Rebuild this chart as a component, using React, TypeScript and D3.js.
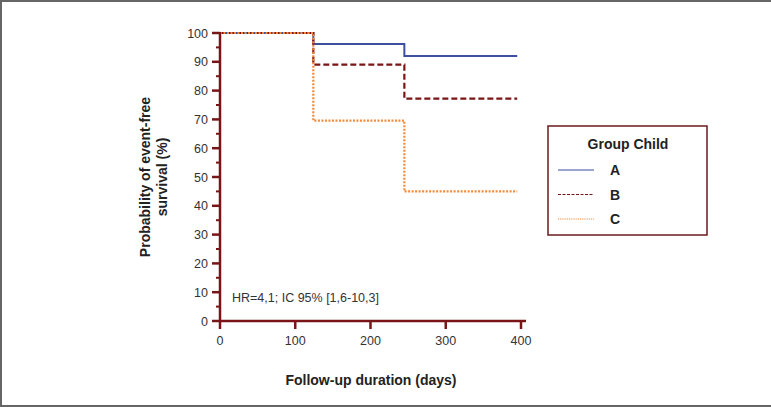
import React from "react";
import * as d3 from "d3";

const times = [0, 124, 245, 395];
const seriesA = [100, 96.2, 92, 92];
const seriesB = [100, 89, 77.2, 77.2];
const seriesC = [100, 69.6, 45, 45];
const groups = ["A", "B", "C"];
const xTicks = [0, 100, 200, 300, 400];
const yTicks = [0, 10, 20, 30, 40, 50, 60, 70, 80, 90, 100];

const W = 771, H = 407;
const axisColor = "#7a1418";
const font = "'Liberation Sans', Arial, sans-serif";

export default function App() {
  const x = d3.scaleLinear().domain([0, 400]).range([220, 521]);
  const y = d3.scaleLinear().domain([0, 100]).range([321, 33]);
  const line = d3.line<[number, number]>().x(d => x(d[0])).y(d => y(d[1])).curve(d3.curveStepAfter);
  const styles = [
    { color: "#3d4f9f", dash: undefined as string | undefined, w: 2 },
    { color: "#7b1416", dash: "6,3", w: 2.2 },
    { color: "#f28a3a", dash: "2,1.5", w: 2.2 },
  ];
  const data = [seriesA, seriesB, seriesC];
  const minor = d3.range(5, 100, 10);
  return (
    <svg width={W} height={H} style={{ position: "fixed", left: 0, top: 0 }} fontFamily={font}>
      <rect x={0} y={0} width={W} height={H} fill="#fff" />
      <line x1={0} x2={W} y1={1} y2={1} stroke="#666" strokeWidth={2} />
      <line x1={1} x2={1} y1={0} y2={H} stroke="#666" strokeWidth={2} />
      <line x1={0} x2={W} y1={H - 1} y2={H - 1} stroke="#666" strokeWidth={2} />

      {data.map((s, i) => (
        <path key={i} d={line(times.map((t, j) => [t, s[j]] as [number, number])) || ""}
          fill="none" stroke={styles[i].color} strokeWidth={styles[i].w} strokeDasharray={styles[i].dash} />
      ))}

      {/* axes */}
      <line x1={x(0)} x2={x(0)} y1={y(100) - 1} y2={y(0)} stroke={axisColor} strokeWidth={2.5} />
      <line x1={x(0)} x2={526} y1={y(0)} y2={y(0)} stroke={axisColor} strokeWidth={2.5} />
      {yTicks.map(t => (
        <g key={t}>
          <line x1={x(0) - 8} x2={x(0)} y1={y(t)} y2={y(t)} stroke={axisColor} strokeWidth={2.5} />
          <text x={208} y={y(t) + 4.5} textAnchor="end" fontSize={12.5} fill="#333">{t}</text>
        </g>
      ))}
      {minor.map(t => (
        <line key={t} x1={x(0) - 4} x2={x(0)} y1={y(t)} y2={y(t)} stroke={axisColor} strokeWidth={2} />
      ))}
      {xTicks.map(t => (
        <g key={t}>
          <line x1={x(t)} x2={x(t)} y1={y(0)} y2={y(0) + 8} stroke={axisColor} strokeWidth={2.5} />
          <text x={x(t)} y={y(0) + 24} textAnchor="middle" fontSize={12.5} fill="#333">{t}</text>
        </g>
      ))}

      <text x={232} y={302} fontSize={12.5} fill="#333">HR=4,1; IC 95% [1,6-10,3]</text>

      <text x={371} y={385} textAnchor="middle" fontSize={14} fontWeight="bold" fill="#222">Follow-up duration (days)</text>
      <g transform={`translate(150, ${(y(0) + y(100)) / 2}) rotate(-90)`}>
        <text x={0} y={0} textAnchor="middle" fontSize={14} fontWeight="bold" fill="#222">Probability of event-free</text>
        <text x={0} y={17} textAnchor="middle" fontSize={14} fontWeight="bold" fill="#222">survival (%)</text>
      </g>

      {/* legend */}
      <rect x={548} y={126} width={159} height={109} fill="#fff" stroke="#6b1a1e" strokeWidth={1.5} />
      <text x={628} y={149} textAnchor="middle" fontSize={14} fontWeight="bold" fill="#222">Group Child</text>
      {groups.map((g, i) => (
        <g key={g}>
          <line x1={558} x2={594} y1={170 + i * 24.5} y2={170 + i * 24.5} stroke={styles[i].color} strokeWidth={1.2}
            strokeDasharray={i === 1 ? "3,1.5" : i === 2 ? "1.2,1" : undefined} />
          <text x={610} y={175 + i * 24.5} fontSize={14} fontWeight="bold" fill="#222">{g}</text>
        </g>
      ))}
    </svg>
  );
}
